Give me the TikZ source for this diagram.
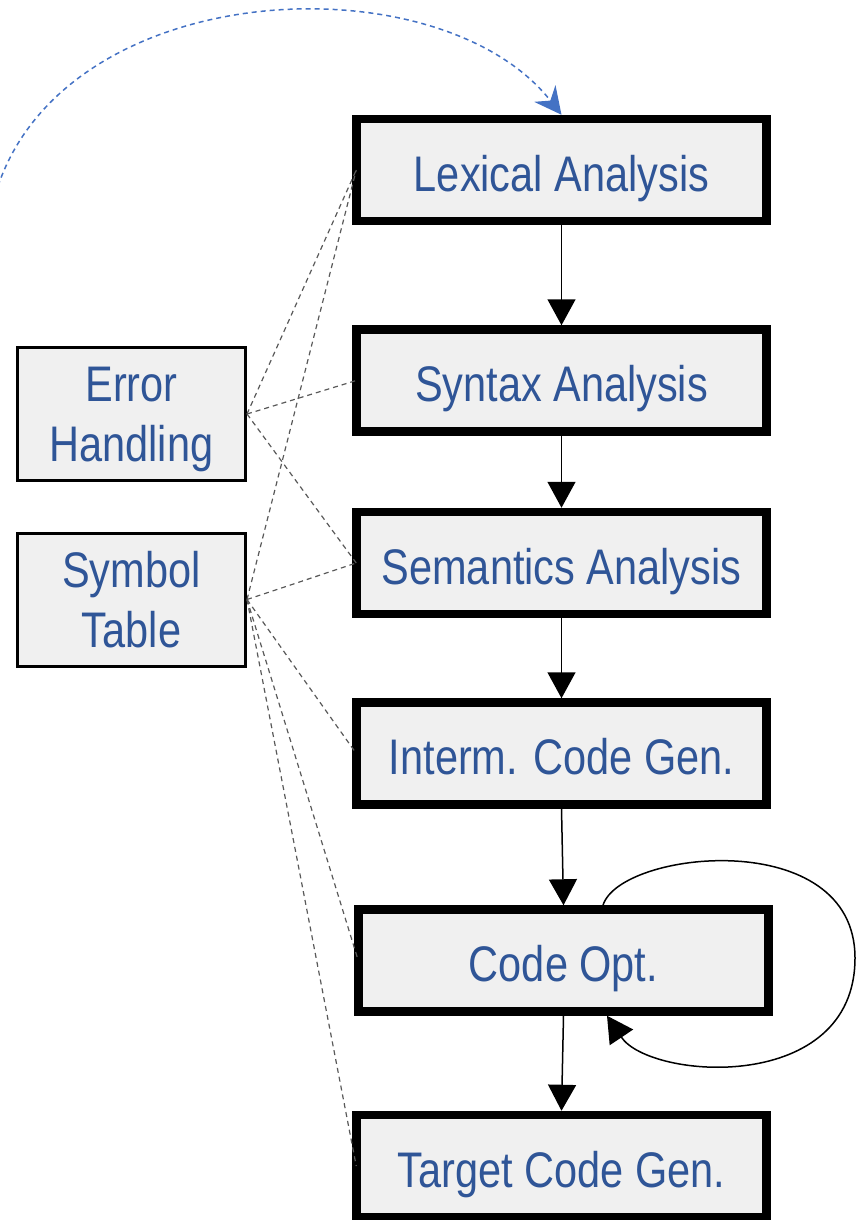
\documentclass[tikz,border=0pt]{standalone}
\usepackage{fontspec}
\setmainfont{Liberation Sans}[FakeStretch=0.83]
\usetikzlibrary{arrows.meta,calc}
\definecolor{labelblue}{HTML}{2F5597}
\definecolor{boxfill}{HTML}{F0F0F0}
\definecolor{linkblue}{HTML}{4472C4}
\definecolor{linkgray}{HTML}{595959}
\begin{document}
\begin{tikzpicture}[x=1pt,y=-1pt,
  phase/.style={draw=black, line width=8.5pt, fill=boxfill,
    minimum width=410pt, minimum height=102pt, inner sep=0pt,
    text=labelblue, font=\fontsize{50}{60}\selectfont,
    text height=42pt, text depth=0pt},
  aux/.style={draw=black, line width=3pt, fill=boxfill,
    minimum width=228pt, minimum height=133pt, inner sep=0pt,
    text=labelblue, font=\fontsize{50}{60}\selectfont,
    align=center, text depth=0pt},
  flow/.style={draw=black, line width=1.5pt,
    -{Triangle[length=26pt,width=28pt]}},
  link/.style={draw=linkgray, line width=1.2pt, dash pattern=on 5pt off 4pt},
  feedback/.style={draw=linkblue, line width=1.5pt, dash pattern=on 5pt off 4pt,
    -{Stealth[length=27pt,width=27pt,inset=9pt]}},
]
\useasboundingbox (0,0) rectangle (867,1220);
\clip (0,0) rectangle (867,1220);

% compiler phases
\node[phase] (lx) at (561.5,170)   {Lexical Analysis};
\node[phase] (sx) at (561.5,380.5) {Syntax Analysis};
\node[phase] (sm) at (561.5,563)   {Semantics Analysis};
\node[phase] (im) at (561.5,753.5) {Interm. Code Gen.};
\node[phase] (co) at (563.5,960.5) {Code Opt.};
\node[phase] (tg) at (561.5,1166)  {Target Code Gen.};

% support components
\node[aux] (eh) at (131.5,414)   {Error\\Handling};
\node[aux] (st) at (131.5,599.5) {Symbol\\Table};

% phase pipeline
\draw[flow] (lx.south) -- (sx.north);
\draw[flow] (sx.south) -- (sm.north);
\draw[flow] (sm.south) -- (im.north);
\draw[flow] (im.south) -- (co.north);
\draw[flow] (co.south) -- (tg.north);

% repeated optimisation passes
\draw[flow] ([xshift=39.5pt]co.north)
  .. controls (620,850) and (855,825) .. (855,958)
  .. controls (855,1095) and (650,1080) .. ([xshift=43.5pt]co.south);

% error handling links
\draw[link] (eh.east) -- ([xshift=4pt]lx.west);
\draw[link] (eh.east) -- ([xshift=4pt]sx.west);
\draw[link] (eh.east) -- ([xshift=4pt]sm.west);

% symbol table links
\draw[link] (st.east) -- ([xshift=4pt]lx.west);
\draw[link] (st.east) -- ([xshift=4pt]sm.west);
\draw[link] (st.east) -- ([xshift=4pt]im.west);
\draw[link] (st.east) -- ([xshift=4pt]co.west);
\draw[link] (st.east) -- ([xshift=4pt]tg.west);

% incoming source feed
\coordinate (feed) at (-2,186);
\draw[feedback] (feed) .. controls (70,-25) and (440,-40) .. (lx.north);
\end{tikzpicture}
\end{document}
